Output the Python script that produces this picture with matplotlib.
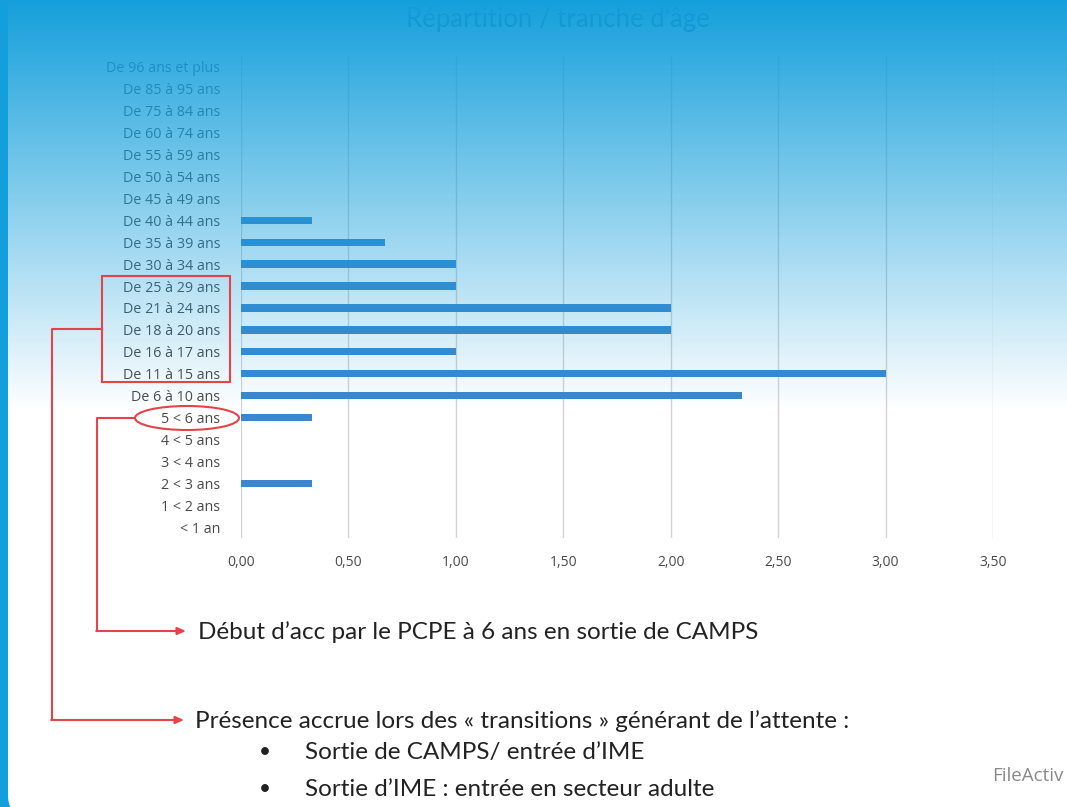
import numpy as np
import matplotlib
matplotlib.use("Agg")
import matplotlib.pyplot as plt
from matplotlib.patches import Rectangle, Ellipse, FancyBboxPatch

# Age brackets (top to bottom as shown) and their values
categories = [
    "De 96 ans et plus", "De 85 à 95 ans", "De 75 à 84 ans", "De 60 à 74 ans",
    "De 55 à 59 ans", "De 50 à 54 ans", "De 45 à 49 ans", "De 40 à 44 ans",
    "De 35 à 39 ans", "De 30 à 34 ans", "De 25 à 29 ans", "De 21 à 24 ans",
    "De 18 à 20 ans", "De 16 à 17 ans", "De 11 à 15 ans", "De 6 à 10 ans",
    "5 < 6 ans", "4 < 5 ans", "3 < 4 ans", "2 < 3 ans", "1 < 2 ans", "< 1 an",
]
values = [0, 0, 0, 0, 0, 0, 0, 0.33, 0.67, 1.00, 1.00, 2.00, 2.00, 1.00,
          3.00, 2.33, 0.33, 0, 0, 0.33, 0, 0]
xticks = [0, 0.5, 1.0, 1.5, 2.0, 2.5, 3.0, 3.5]
xtick_labels = ["0,00", "0,50", "1,00", "1,50", "2,00", "2,50", "3,00", "3,50"]

title = "Répartition / tranche d'âge"
note1 = "Début d’acc par le PCPE à 6 ans en sortie de CAMPS"
note2 = "Présence accrue lors des « transitions » générant de l’attente :"
bullets = ["Sortie de CAMPS/ entrée d’IME", "Sortie d’IME : entrée en secteur adulte"]
footer = "FileActiv"

W, H = 1067, 807
BLUE = "#139fdb"
RED = "#e5434a"
TXT = ["Lato", "DejaVu Sans"]

fig = plt.figure(figsize=(W / 100, H / 100), dpi=100)
fig.patch.set_facecolor(BLUE)

# white rounded panel behind everything
bg = fig.add_axes([0, 0, 1, 1], zorder=0)
bg.set_xlim(0, W)
bg.set_ylim(H, 0)
bg.axis("off")
bg.add_patch(FancyBboxPatch((8, -30), W + 40, H + 40, boxstyle="round,pad=0,rounding_size=22",
                            facecolor="white", edgecolor="none"))

# bar chart
ax = fig.add_axes([241 / W, 1 - 538 / H, (993 - 241) / W, (538 - 56) / H], zorder=1)
ax.patch.set_alpha(0)
pos = np.arange(len(categories))
ax.barh(pos, values, height=0.34, color="#3a87cf", zorder=3)
ax.set_ylim(len(categories) - 0.5, -0.5)
ax.set_xlim(0, 3.5)
ax.set_yticks(pos)
ax.set_yticklabels(categories, fontsize=10.3, color="#4a4a4a", family="Open Sans")
ax.set_xticks(xticks)
ax.set_xticklabels(xtick_labels, fontsize=10, color="#4a4a4a", family="Open Sans")
ax.tick_params(axis="y", length=0, pad=15)
ax.tick_params(axis="x", length=0, pad=12)
ax.grid(axis="x", color="#d4d4d4", linewidth=1)
ax.set_axisbelow(True)
for s in ax.spines.values():
    s.set_visible(False)
fig.text(558 / W, 1 - 19 / H, title, ha="center", va="center", fontsize=18.5,
         color="#0b3f7a", family=TXT, zorder=1)

# blue gradient fading to white over the top half
ov = fig.add_axes([0, 0, 1, 1], zorder=2)
ov.axis("off")
grad = np.zeros((H, 1, 4))
grad[:, 0, :3] = matplotlib.colors.to_rgb(BLUE)
grad[:, 0, 3] = np.clip(1 - np.linspace(0, H, H) / 410, 0, 1)
ov.imshow(grad, aspect="auto", extent=(0, W, H, 0))
ov.set_xlim(0, W)
ov.set_ylim(H, 0)

# annotations on top
an = fig.add_axes([0, 0, 1, 1], zorder=3)
an.patch.set_alpha(0)
an.axis("off")
an.set_xlim(0, W)
an.set_ylim(H, 0)
an.add_patch(Rectangle((102, 276), 128, 106, fill=False, edgecolor=RED, linewidth=1.5))
an.add_patch(Ellipse((187, 418), 104, 24, fill=False, edgecolor=RED, linewidth=1.5))
an.plot([102, 52, 52], [329, 329, 720], color=RED, linewidth=1.5)
an.plot([135, 97, 97], [418, 418, 631], color=RED, linewidth=1.5)
arrow = dict(arrowstyle="-|>,head_length=0.5,head_width=0.22", color=RED, linewidth=1.5,
             shrinkA=0, shrinkB=0)
an.annotate("", xy=(186, 631), xytext=(96.25, 631), arrowprops=arrow)
an.annotate("", xy=(184, 720), xytext=(51.25, 720), arrowprops=arrow)
an.text(198, 632, note1, fontsize=17.5, color="#222222", va="center", family=TXT)
an.text(195, 721, note2, fontsize=17.5, color="#222222", va="center", family=TXT)
for i, b in enumerate(bullets):
    y = 752 + i * 37
    an.text(259, y, "•", fontsize=15, color="#222222", va="center", family=TXT)
    an.text(305, y, b, fontsize=17.5, color="#222222", va="center", family=TXT)
an.text(1064, 776, footer, fontsize=13.5, color="#8a8a8a", va="center", ha="right",
        family="Open Sans")

fig.savefig("out.png", dpi=100, facecolor=fig.get_facecolor())
